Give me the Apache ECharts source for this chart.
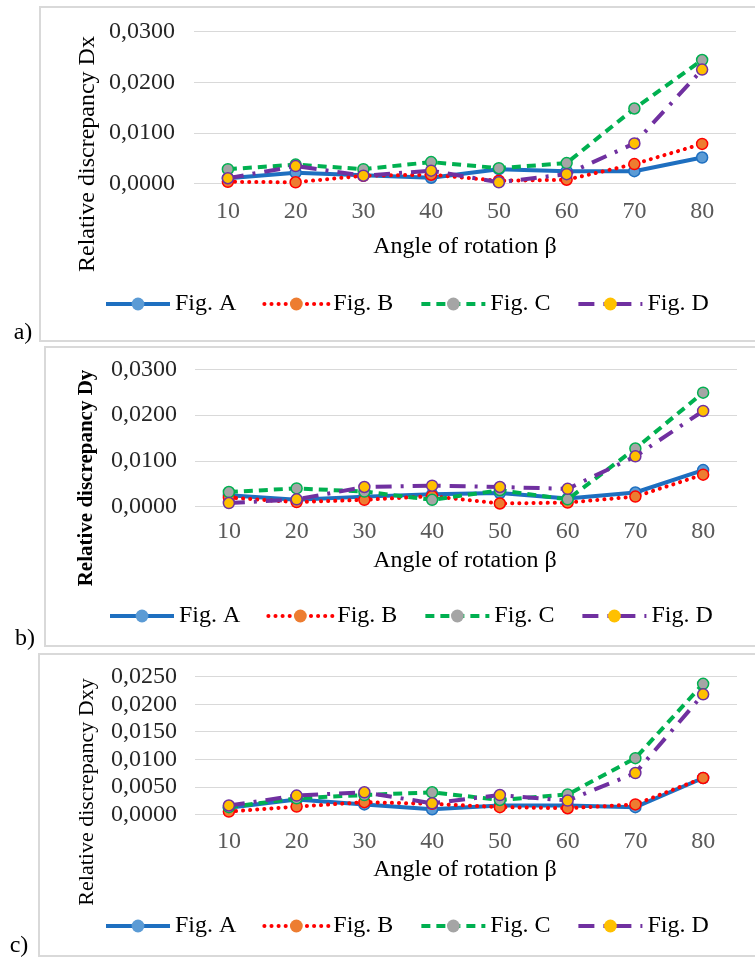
<!DOCTYPE html>
<html>
<head>
<meta charset="utf-8">
<script src="https://cdn.jsdelivr.net/npm/echarts@6/dist/echarts.min.js"></script>
<style>
html,body{margin:0;padding:0;background:#fff;}
#c{width:755px;height:957px;}
</style>
</head>
<body>
<div id="c"></div>
<script>
var categories = ['10','20','30','40','50','60','70','80'];
var seriesNames = ['Fig. A','Fig. B','Fig. C','Fig. D'];

var dxA = [0.0010, 0.0021, 0.0016, 0.0011, 0.0028, 0.0024, 0.0024, 0.0051];
var dxB = [0.0003, 0.0002, 0.0015, 0.0017, 0.0005, 0.0007, 0.0038, 0.0078];
var dxC = [0.0028, 0.0037, 0.0028, 0.0042, 0.0030, 0.0040, 0.0148, 0.0244];
var dxD = [0.0010, 0.0034, 0.0015, 0.0025, 0.0002, 0.0018, 0.0079, 0.0225];

var dyA = [0.0025, 0.0015, 0.0022, 0.0027, 0.0030, 0.0018, 0.0031, 0.0080];
var dyB = [0.0020, 0.0010, 0.0015, 0.0023, 0.0007, 0.0009, 0.0022, 0.0070];
var dyC = [0.0032, 0.0040, 0.0033, 0.0015, 0.0036, 0.0016, 0.0127, 0.0249];
var dyD = [0.0008, 0.0016, 0.0043, 0.0046, 0.0043, 0.0039, 0.0110, 0.0209];

var dxyA = [0.0012, 0.0027, 0.0018, 0.0009, 0.0016, 0.0016, 0.0013, 0.0066];
var dxyB = [0.0005, 0.0014, 0.0022, 0.0019, 0.0013, 0.0011, 0.0018, 0.0066];
var dxyC = [0.0013, 0.0029, 0.0035, 0.0040, 0.0026, 0.0036, 0.0102, 0.0237];
var dxyD = [0.0016, 0.0034, 0.0040, 0.0020, 0.0035, 0.0025, 0.0075, 0.0218];

var yTitles = ['Relative discrepancy Dx', 'Relative discrepancy Dy', 'Relative discrepancy Dxy'];
var xTitle = 'Angle of rotation \u03b2';
var panelLabels = ['a)', 'b)', 'c)'];
var yMax = [0.03, 0.03, 0.025];
var yInterval = [0.01, 0.01, 0.005];

var panels = [[dxA, dxB, dxC, dxD], [dyA, dyB, dyC, dyD], [dxyA, dxyB, dxyC, dxyD]];

var FONT = 'Liberation Serif';
var styles = [
  {line: '#1E6FC0', fill: '#5B9BD5', type: 'solid', width: 4, cap: 'butt'},
  {line: '#FF0000', fill: '#ED7D31', type: [0.1, 7], width: 4, cap: 'round'},
  {line: '#00B050', fill: '#A5A5A5', type: [9, 6], width: 4, cap: 'butt'},
  {line: '#7030A0', fill: '#FFC000', type: [16, 9, 3, 9], width: 4, cap: 'butt'}
];

var layout = [
  {top: 31.7, height: 151.6, left: 194, xMargin: 16, yMargin: 19, xTitleY: 247, legendTop: 292, legendLeft: 104, yTitleX: 88, yTitleY: 154, yTitleSize: 24, yTitleBold: false, labelX: 23, labelY: 333},
  {top: 369.3, height: 137.4, left: 195, xMargin: 13, yMargin: 18, xTitleY: 561, legendTop: 604, legendLeft: 108, yTitleX: 87, yTitleY: 478, yTitleSize: 21, yTitleBold: true, labelX: 25, labelY: 639},
  {top: 676.7, height: 137.6, left: 195, xMargin: 15, yMargin: 18, xTitleY: 870, legendTop: 914, legendLeft: 104, yTitleX: 87, yTitleY: 792, yTitleSize: 22, yTitleBold: false, labelX: 19, labelY: 946}
];

var grids = [], xAxes = [], yAxes = [], series = [], legends = [], graphics = [];

graphics.push({type: 'rect', shape: {x: 40, y: 7, width: 716, height: 334}, style: {fill: null, stroke: '#D9D9D9', lineWidth: 2}, silent: true});
graphics.push({type: 'rect', shape: {x: 45, y: 347, width: 711, height: 299}, style: {fill: null, stroke: '#D9D9D9', lineWidth: 2}, silent: true});
graphics.push({type: 'rect', shape: {x: 39, y: 654, width: 717, height: 302}, style: {fill: null, stroke: '#D9D9D9', lineWidth: 2}, silent: true});

layout.forEach(function (L, p) {
  grids.push({left: L.left, width: 542, top: L.top, height: L.height, containLabel: false});
  xAxes.push({
    type: 'category', gridIndex: p, data: categories, boundaryGap: true,
    axisLine: {show: false}, axisTick: {show: false},
    axisLabel: {fontFamily: FONT, fontSize: 24, color: '#595959', margin: L.xMargin}
  });
  yAxes.push({
    type: 'value', gridIndex: p, min: 0, max: yMax[p], interval: yInterval[p],
    axisLine: {show: false}, axisTick: {show: false},
    splitLine: {lineStyle: {color: '#D9D9D9', width: 1}},
    axisLabel: {fontFamily: FONT, fontSize: 24, color: '#262626', margin: L.yMargin,
      formatter: function (v) { return v.toFixed(4).replace('.', ','); }}
  });
  panels[p].forEach(function (vals, s) {
    var st = styles[s];
    series.push({
      name: seriesNames[s], type: 'line', xAxisIndex: p, yAxisIndex: p,
      data: vals, symbol: 'circle', symbolSize: 11, animation: false,
      lineStyle: {color: st.line, width: st.width, type: st.type, cap: st.cap},
      itemStyle: {color: st.fill, borderColor: st.line, borderWidth: 1.5},
      z: 2 + s
    });
  });
  legends.push({
    left: L.legendLeft, top: L.legendTop, padding: 0, itemWidth: 64, itemHeight: 16, itemGap: 26,
    data: seriesNames.map(function (n, s) {
      var st = styles[s];
      return {name: n, lineStyle: {color: st.line, width: 4, type: st.type, cap: st.cap},
        itemStyle: {color: st.fill, borderColor: st.fill, borderWidth: 0}};
    }),
    selectedMode: false,
    textStyle: {fontFamily: FONT, fontSize: 24, color: '#000'}
  });
  graphics.push({type: 'text', x: 465, y: L.xTitleY, style: {text: xTitle, font: '24px "' + FONT + '"', fill: '#000', align: 'center', verticalAlign: 'middle'}});
  graphics.push({type: 'text', x: L.yTitleX, y: L.yTitleY, rotation: Math.PI / 2,
    style: {text: yTitles[p], font: (L.yTitleBold ? 'bold ' : '') + L.yTitleSize + 'px "' + FONT + '"', fill: '#000', align: 'center', verticalAlign: 'middle'}});
  graphics.push({type: 'text', x: L.labelX, y: L.labelY, style: {text: panelLabels[p], font: '24px "' + FONT + '"', fill: '#000', align: 'center', verticalAlign: 'middle'}});
});

var chart = echarts.init(document.getElementById('c'), null, {renderer: 'canvas'});
chart.setOption({
  animation: false,
  backgroundColor: '#fff',
  grid: grids, xAxis: xAxes, yAxis: yAxes, series: series, legend: legends,
  graphic: graphics
});
</script>
</body>
</html>
